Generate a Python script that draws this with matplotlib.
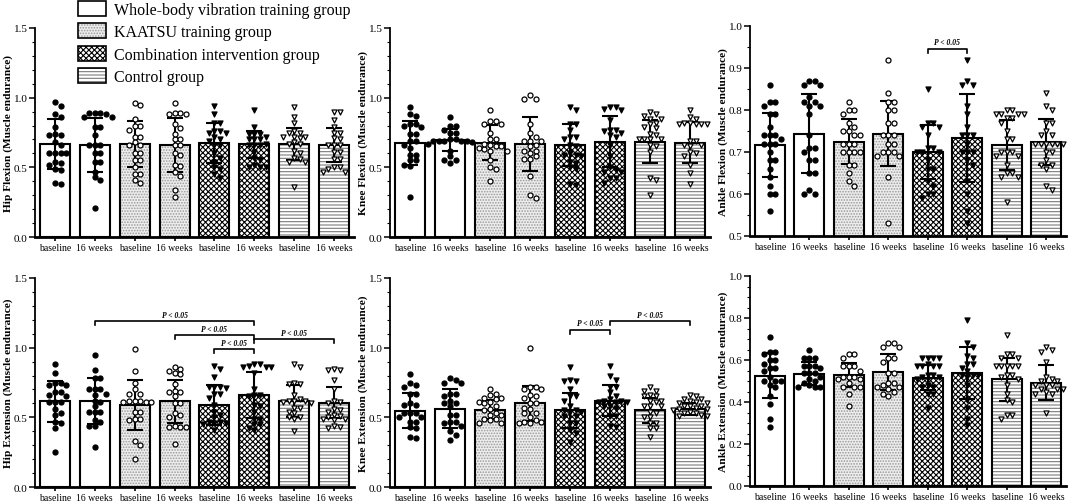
import matplotlib
matplotlib.use('Agg')
import matplotlib.pyplot as plt
from matplotlib.patches import Patch
from matplotlib.legend_handler import HandlerTuple
from matplotlib.ticker import MultipleLocator
import numpy as np

plt.rcParams['font.family'] = ['Liberation Serif', 'DejaVu Serif']
plt.rcParams['hatch.linewidth'] = 0.8

# ---------------- data ----------------
categories = ['baseline', '16 weeks', 'baseline', '16 weeks',
              'baseline', '16 weeks', 'baseline', '16 weeks']
groups = ['Whole-body vibration training group', 'KAATSU training group',
          'Combination intervention group', 'Control group']

# Hip Flexion
hip_flex_mean = [0.665, 0.660, 0.665, 0.660, 0.675, 0.665, 0.670, 0.660]
hip_flex_sd = [0.180, 0.195, 0.165, 0.197, 0.145, 0.095, 0.115, 0.125]
hip_flex_pts = [
    [0.97, 0.94, 0.88, 0.86, 0.79, 0.73, 0.73, 0.66, 0.60, 0.60, 0.60, 0.60, 0.54, 0.53, 0.52, 0.49, 0.48, 0.38, 0.39, 0.68, 0.74],
    [0.89, 0.89, 0.88, 0.89, 0.86, 0.86, 0.79, 0.79, 0.73, 0.66, 0.66, 0.66, 0.60, 0.60, 0.54, 0.54, 0.47, 0.43, 0.41, 0.21],
    [0.95, 0.96, 0.85, 0.80, 0.80, 0.77, 0.72, 0.72, 0.66, 0.66, 0.60, 0.60, 0.55, 0.55, 0.50, 0.45, 0.45, 0.41, 0.39, 0.68],
    [0.96, 0.89, 0.88, 0.89, 0.88, 0.81, 0.78, 0.70, 0.70, 0.66, 0.66, 0.59, 0.51, 0.52, 0.47, 0.44, 0.34, 0.29, 0.74, 0.60],
    [0.94, 0.88, 0.82, 0.82, 0.76, 0.76, 0.75, 0.75, 0.72, 0.70, 0.69, 0.66, 0.66, 0.60, 0.57, 0.54, 0.50, 0.49, 0.45, 0.42],
    [0.91, 0.79, 0.74, 0.74, 0.74, 0.72, 0.70, 0.70, 0.70, 0.67, 0.66, 0.66, 0.66, 0.61, 0.57, 0.55, 0.52, 0.50, 0.50, 0.50],
    [0.93, 0.86, 0.82, 0.76, 0.75, 0.75, 0.72, 0.72, 0.72, 0.71, 0.68, 0.67, 0.67, 0.62, 0.60, 0.57, 0.54, 0.54, 0.56, 0.36],
    [0.90, 0.90, 0.84, 0.79, 0.75, 0.75, 0.71, 0.70, 0.66, 0.66, 0.66, 0.61, 0.61, 0.56, 0.56, 0.50, 0.50, 0.49, 0.47, 0.47],
]

# Hip Extension
hip_ext_mean = [0.614, 0.620, 0.590, 0.614, 0.590, 0.660, 0.620, 0.605]
hip_ext_sd = [0.145, 0.165, 0.180, 0.155, 0.145, 0.165, 0.115, 0.110]
hip_ext_pts = [
    [0.88, 0.82, 0.75, 0.75, 0.73, 0.73, 0.68, 0.68, 0.66, 0.65, 0.61, 0.61, 0.61, 0.56, 0.53, 0.52, 0.47, 0.46, 0.42, 0.25],
    [0.95, 0.84, 0.78, 0.78, 0.70, 0.70, 0.70, 0.67, 0.66, 0.61, 0.54, 0.54, 0.54, 0.48, 0.47, 0.44, 0.44, 0.29, 0.62, 0.58],
    [0.99, 0.83, 0.75, 0.70, 0.67, 0.67, 0.62, 0.62, 0.62, 0.61, 0.61, 0.61, 0.54, 0.54, 0.49, 0.49, 0.48, 0.33, 0.30, 0.20],
    [0.86, 0.85, 0.83, 0.82, 0.81, 0.74, 0.69, 0.68, 0.68, 0.65, 0.60, 0.60, 0.53, 0.52, 0.50, 0.44, 0.43, 0.43, 0.43, 0.31],
    [0.87, 0.85, 0.79, 0.72, 0.72, 0.72, 0.71, 0.67, 0.67, 0.64, 0.59, 0.54, 0.47, 0.47, 0.46, 0.46, 0.45, 0.52, 0.50, 0.41],
    [0.88, 0.88, 0.87, 0.86, 0.86, 0.86, 0.82, 0.70, 0.66, 0.66, 0.65, 0.59, 0.58, 0.54, 0.49, 0.49, 0.45, 0.45, 0.42, 0.41],
    [0.88, 0.86, 0.75, 0.74, 0.74, 0.66, 0.63, 0.62, 0.62, 0.62, 0.61, 0.57, 0.57, 0.54, 0.53, 0.50, 0.50, 0.49, 0.40, 0.60],
    [0.85, 0.84, 0.84, 0.77, 0.70, 0.62, 0.61, 0.60, 0.56, 0.55, 0.54, 0.52, 0.51, 0.50, 0.49, 0.49, 0.48, 0.44, 0.43, 0.42],
]

# Knee Flexion
knee_flex_mean = [0.675, 0.695, 0.678, 0.666, 0.661, 0.685, 0.685, 0.678]
knee_flex_sd = [0.155, 0.078, 0.126, 0.195, 0.150, 0.180, 0.155, 0.144]
knee_flex_pts = [
    [0.93, 0.87, 0.88, 0.81, 0.81, 0.80, 0.79, 0.74, 0.74, 0.69, 0.69, 0.64, 0.66, 0.59, 0.59, 0.55, 0.55, 0.52, 0.51, 0.29],
    [0.86, 0.80, 0.80, 0.77, 0.75, 0.75, 0.70, 0.69, 0.69, 0.69, 0.69, 0.69, 0.68, 0.67, 0.62, 0.58, 0.55, 0.55, 0.53, 0.70],
    [0.91, 0.83, 0.83, 0.81, 0.81, 0.75, 0.70, 0.70, 0.66, 0.65, 0.65, 0.64, 0.63, 0.62, 0.62, 0.55, 0.50, 0.49, 0.40, 0.67],
    [1.02, 0.99, 0.99, 0.81, 0.75, 0.72, 0.69, 0.69, 0.69, 0.66, 0.65, 0.62, 0.62, 0.58, 0.56, 0.56, 0.44, 0.30, 0.28, 0.60],
    [0.93, 0.91, 0.81, 0.81, 0.77, 0.72, 0.72, 0.66, 0.65, 0.60, 0.59, 0.59, 0.58, 0.54, 0.53, 0.50, 0.49, 0.38, 0.37, 0.70],
    [0.93, 0.93, 0.92, 0.91, 0.77, 0.77, 0.76, 0.75, 0.73, 0.72, 0.66, 0.58, 0.50, 0.48, 0.47, 0.47, 0.42, 0.42, 0.39, 0.84],
    [0.90, 0.88, 0.87, 0.85, 0.85, 0.82, 0.81, 0.79, 0.78, 0.74, 0.73, 0.70, 0.70, 0.70, 0.70, 0.66, 0.65, 0.61, 0.42, 0.41, 0.30],
    [0.91, 0.86, 0.85, 0.82, 0.82, 0.81, 0.81, 0.81, 0.81, 0.69, 0.69, 0.66, 0.66, 0.65, 0.61, 0.60, 0.58, 0.52, 0.46, 0.38],
]

# Knee Extension
knee_ext_mean = [0.549, 0.560, 0.556, 0.600, 0.552, 0.620, 0.552, 0.560]
knee_ext_sd = [0.125, 0.140, 0.065, 0.125, 0.125, 0.113, 0.090, 0.045]
knee_ext_pts = [
    [0.81, 0.75, 0.73, 0.72, 0.67, 0.67, 0.60, 0.59, 0.59, 0.53, 0.53, 0.53, 0.50, 0.50, 0.47, 0.47, 0.43, 0.42, 0.36, 0.35],
    [0.78, 0.77, 0.75, 0.75, 0.67, 0.67, 0.62, 0.60, 0.60, 0.58, 0.52, 0.52, 0.47, 0.47, 0.46, 0.44, 0.40, 0.37, 0.34, 0.65],
    [0.70, 0.67, 0.66, 0.64, 0.64, 0.63, 0.61, 0.61, 0.60, 0.58, 0.56, 0.55, 0.53, 0.52, 0.52, 0.49, 0.49, 0.48, 0.46, 0.46],
    [1.00, 0.72, 0.72, 0.70, 0.70, 0.66, 0.65, 0.64, 0.60, 0.60, 0.57, 0.56, 0.53, 0.53, 0.50, 0.47, 0.47, 0.46, 0.46, 0.48],
    [0.86, 0.77, 0.76, 0.76, 0.70, 0.65, 0.65, 0.62, 0.55, 0.55, 0.54, 0.54, 0.51, 0.51, 0.46, 0.46, 0.41, 0.39, 0.32, 0.58],
    [0.87, 0.80, 0.77, 0.72, 0.72, 0.68, 0.65, 0.62, 0.61, 0.61, 0.61, 0.58, 0.58, 0.57, 0.51, 0.51, 0.44, 0.43, 0.62, 0.63],
    [0.72, 0.69, 0.69, 0.66, 0.65, 0.65, 0.62, 0.62, 0.61, 0.58, 0.58, 0.58, 0.54, 0.53, 0.50, 0.50, 0.46, 0.46, 0.42, 0.42, 0.36],
    [0.66, 0.65, 0.63, 0.63, 0.62, 0.61, 0.60, 0.60, 0.58, 0.58, 0.58, 0.57, 0.56, 0.56, 0.55, 0.54, 0.53, 0.53, 0.52, 0.51, 0.51],
]

# Ankle Flexion
ankle_flex_mean = [0.716, 0.744, 0.725, 0.744, 0.700, 0.734, 0.716, 0.724]
ankle_flex_sd = [0.076, 0.095, 0.053, 0.078, 0.064, 0.105, 0.060, 0.055]
ankle_flex_pts = [
    [0.86, 0.82, 0.82, 0.81, 0.79, 0.79, 0.76, 0.74, 0.74, 0.74, 0.73, 0.72, 0.72, 0.72, 0.70, 0.68, 0.68, 0.66, 0.64, 0.62, 0.60, 0.60, 0.56],
    [0.87, 0.87, 0.86, 0.86, 0.83, 0.82, 0.82, 0.81, 0.81, 0.79, 0.74, 0.71, 0.71, 0.70, 0.68, 0.68, 0.65, 0.65, 0.61, 0.60, 0.60],
    [0.82, 0.80, 0.80, 0.79, 0.77, 0.76, 0.75, 0.75, 0.74, 0.74, 0.72, 0.72, 0.72, 0.70, 0.70, 0.70, 0.70, 0.67, 0.67, 0.65, 0.63, 0.62],
    [0.92, 0.84, 0.82, 0.82, 0.80, 0.80, 0.77, 0.77, 0.74, 0.74, 0.74, 0.72, 0.72, 0.70, 0.70, 0.70, 0.69, 0.69, 0.64, 0.53],
    [0.85, 0.77, 0.77, 0.76, 0.76, 0.74, 0.71, 0.71, 0.70, 0.70, 0.70, 0.68, 0.66, 0.66, 0.63, 0.62, 0.60, 0.60, 0.59],
    [0.92, 0.87, 0.86, 0.86, 0.81, 0.79, 0.74, 0.74, 0.74, 0.70, 0.70, 0.70, 0.68, 0.67, 0.63, 0.60, 0.56, 0.53, 0.76, 0.72],
    [0.80, 0.80, 0.79, 0.79, 0.79, 0.79, 0.78, 0.78, 0.77, 0.75, 0.73, 0.73, 0.70, 0.70, 0.70, 0.69, 0.69, 0.67, 0.65, 0.65, 0.64, 0.64, 0.58],
    [0.84, 0.81, 0.80, 0.77, 0.77, 0.75, 0.74, 0.74, 0.72, 0.72, 0.72, 0.72, 0.72, 0.72, 0.70, 0.70, 0.68, 0.67, 0.67, 0.66, 0.62, 0.61],
]

# Ankle Extension
ankle_ext_mean = [0.524, 0.535, 0.529, 0.543, 0.516, 0.537, 0.508, 0.492]
ankle_ext_sd = [0.107, 0.055, 0.058, 0.087, 0.061, 0.123, 0.103, 0.083]
ankle_ext_pts = [
    [0.71, 0.64, 0.64, 0.63, 0.60, 0.60, 0.58, 0.56, 0.56, 0.52, 0.50, 0.50, 0.50, 0.48, 0.47, 0.43, 0.39, 0.32, 0.28, 0.55],
    [0.65, 0.61, 0.61, 0.61, 0.57, 0.57, 0.57, 0.56, 0.54, 0.54, 0.54, 0.52, 0.51, 0.50, 0.49, 0.48, 0.47, 0.47, 0.47],
    [0.63, 0.63, 0.61, 0.57, 0.57, 0.57, 0.55, 0.52, 0.52, 0.52, 0.51, 0.51, 0.49, 0.47, 0.47, 0.47, 0.44, 0.38],
    [0.68, 0.68, 0.66, 0.66, 0.61, 0.61, 0.59, 0.54, 0.54, 0.49, 0.49, 0.48, 0.47, 0.47, 0.46, 0.45, 0.44, 0.43],
    [0.61, 0.61, 0.61, 0.61, 0.58, 0.57, 0.57, 0.57, 0.57, 0.53, 0.53, 0.52, 0.52, 0.51, 0.48, 0.47, 0.47, 0.44, 0.44, 0.37],
    [0.79, 0.68, 0.66, 0.62, 0.61, 0.58, 0.58, 0.56, 0.53, 0.53, 0.52, 0.48, 0.41, 0.37, 0.32, 0.29, 0.53, 0.55],
    [0.72, 0.63, 0.63, 0.61, 0.61, 0.57, 0.57, 0.57, 0.57, 0.57, 0.53, 0.53, 0.52, 0.51, 0.48, 0.44, 0.41, 0.40, 0.34, 0.34, 0.32],
    [0.66, 0.65, 0.64, 0.59, 0.52, 0.51, 0.50, 0.50, 0.48, 0.48, 0.48, 0.46, 0.46, 0.46, 0.45, 0.44, 0.44, 0.35],
]

# significance brackets: (bar_from, bar_to, height)
hip_ext_sig = [(1, 5, 1.19), (3, 5, 1.09), (4, 5, 0.99), (5, 7, 1.06)]
knee_ext_sig = [(4, 5, 1.13), (5, 7, 1.19)]
ankle_flex_sig = [(4, 5, 0.946)]
sig_label = 'P < 0.05'

# ---------------- style ----------------
group_face = ['white', '#ededed', 'white', 'white']
group_hatch = [None, '......', 'xxxxxx', '-----']
group_hatch_col = ['black', '#9a9a9a', 'black', '#7a7a7a']
marker_shape = ['o', 'o', 'v', 'v']
marker_face = ['black', 'white', 'black', 'white']

W, H, DPI = 10.72, 5.02, 100
fig = plt.figure(figsize=(W, H), dpi=DPI)

panels = [
    ('Hip Flexion (Muscle endurance)', hip_flex_mean, hip_flex_sd, hip_flex_pts, [],
     (0.0, 1.5), 0.5, 0.1, [35, 29, 319, 209]),
    ('Knee Flexion (Muscle endurance)', knee_flex_mean, knee_flex_sd, knee_flex_pts, [],
     (0.0, 1.5), 0.5, 0.1, [390, 29, 320, 209]),
    ('Ankle Flexion (Muscle endurance)', ankle_flex_mean, ankle_flex_sd, ankle_flex_pts, ankle_flex_sig,
     (0.5, 1.0), 0.1, 0.05, [750, 27, 316, 210]),
    ('Hip Extension (Muscle endurance)', hip_ext_mean, hip_ext_sd, hip_ext_pts, hip_ext_sig,
     (0.0, 1.5), 0.5, 0.1, [35, 279, 319, 209]),
    ('Knee Extension (Muscle endurance)', knee_ext_mean, knee_ext_sd, knee_ext_pts, knee_ext_sig,
     (0.0, 1.5), 0.5, 0.1, [390, 279, 320, 209]),
    ('Ankle Extension (Muscle endurance)', ankle_ext_mean, ankle_ext_sd, ankle_ext_pts, [],
     (0.0, 1.0), 0.2, 0.05, [750, 277, 316, 210]),
]

BAR_W = 0.75
XLIM = (-0.5, 7.5)
DOT_PX = 5.6


def swarm_offsets(values, px_per_x, px_per_y, d=DOT_PX):
    order = np.argsort(values)[::-1]
    placed = []
    offs = np.zeros(len(values))
    cand = [0]
    for k in range(1, 14):
        cand += [k, -k]
    for i in order:
        y = values[i] * px_per_y
        for c in cand:
            x = c * d * 0.5
            ok = all((x - px) ** 2 + (y - py) ** 2 >= (d * 0.95) ** 2 for px, py in placed)
            if ok:
                placed.append((x, y))
                offs[i] = x / px_per_x
                break
    return offs


for (ylabel, means, sds, pts, sigs, ylim, major, minor, box) in panels:
    left, top, w, h = box
    ax = fig.add_axes([left / (W * DPI), 1 - (top + h) / (H * DPI), w / (W * DPI), h / (H * DPI)])
    ax.set_xlim(*XLIM)
    ax.set_ylim(*ylim)
    xs = np.arange(len(categories))
    for i, x in enumerate(xs):
        g = i // 2
        ax.bar(x, means[i], BAR_W, bottom=0, color=group_face[g], hatch=group_hatch[g],
               edgecolor=group_hatch_col[g], linewidth=0, zorder=1)
        ax.bar(x, means[i], BAR_W, bottom=0, fill=False, edgecolor='black', linewidth=1.5, zorder=2)
    ax.errorbar(xs, means, yerr=sds, fmt='none', ecolor='black', elinewidth=1.5,
                capsize=6, capthick=1.5, zorder=4)
    px_per_x = w / (XLIM[1] - XLIM[0])
    px_per_y = h / (ylim[1] - ylim[0])
    for i, x in enumerate(xs):
        g = i // 2
        vals = np.array(pts[i])
        offs = swarm_offsets(vals, px_per_x, px_per_y)
        ax.scatter(x + offs, vals, s=13, marker=marker_shape[g], facecolor=marker_face[g],
                   edgecolor='black', linewidths=0.9, zorder=5, clip_on=False)
    # brackets
    rng = ylim[1] - ylim[0]
    for (a, b, yb) in sigs:
        dh = 0.02 * rng
        ax.plot([a, a, b, b], [yb - dh, yb, yb, yb - dh], color='black', lw=1.2, zorder=6)
        ax.text((a + b) / 2, yb + 0.012 * rng, sig_label, ha='center', va='bottom',
                fontsize=5.5, fontweight='bold', fontstyle='italic')
    ax.set_xticks(xs)
    ax.set_xticklabels(categories, fontsize=7)
    ax.yaxis.set_major_locator(MultipleLocator(major))
    ax.yaxis.set_minor_locator(MultipleLocator(minor))
    ax.yaxis.set_major_formatter(matplotlib.ticker.FormatStrFormatter('%.1f'))
    ax.tick_params(axis='y', labelsize=8, length=4, width=1.1, pad=1.2)
    ax.tick_params(axis='y', which='minor', length=2, width=0.8)
    ax.tick_params(axis='x', length=3, width=1.2, pad=1.5)
    ax.set_ylabel(ylabel, fontsize=8.2, fontweight='bold', labelpad=0.3)
    for s in ['top', 'right']:
        ax.spines[s].set_visible(False)
    ax.spines['left'].set_linewidth(1.3)
    ax.spines['bottom'].set_linewidth(2.0)

# legend
handles = []
for g in range(4):
    fill = Patch(facecolor=group_face[g], hatch=group_hatch[g], edgecolor=group_hatch_col[g], linewidth=0)
    edge = Patch(fill=False, edgecolor='black', linewidth=1.2)
    handles.append((fill, edge))
fig.legend(handles, groups, handler_map={tuple: HandlerTuple(ndivide=1, pad=0)},
           loc='upper left', bbox_to_anchor=(78 / (W * DPI), 0.997), frameon=False,
           fontsize=11.5, handlelength=1.75, handleheight=1.1, labelspacing=0.34,
           handletextpad=0.5, borderpad=0.0, borderaxespad=0.0)

fig.savefig('out.png', dpi=DPI)
